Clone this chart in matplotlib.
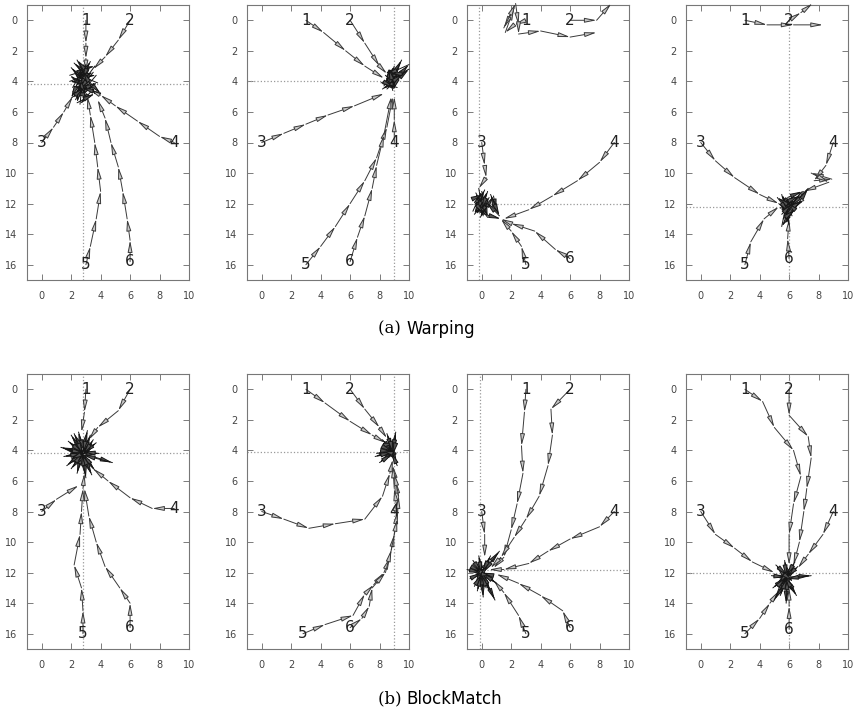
import matplotlib
matplotlib.use("Agg")
import matplotlib.pyplot as plt

# start positions of the six trajectories
start_labels = ["1", "2", "3", "4", "5", "6"]
x_ticks = [0, 2, 4, 6, 8, 10]
y_ticks = [0, 2, 4, 6, 8, 10, 12, 14, 16]

# (a) Warping
warp1_target = (2.8, 4.2)
warp1_paths = [
    [(3, 0), (3.0, 1.5), (3.0, 2.5), (3.0, 3.4)],
    [(6, 0), (5.2, 1.3), (4.3, 2.4), (3.5, 3.2)],
    [(0, 8), (0.8, 7.0), (1.5, 6.0), (2.1, 5.0)],
    [(9, 8), (8.0, 7.6), (6.5, 6.6), (5.0, 5.6), (4.0, 4.9), (3.2, 4.5)],
    [(3, 16), (3.3, 14.8), (3.7, 13.0), (4.0, 11.2), (3.8, 9.6), (3.6, 8.0), (3.3, 6.2), (3.1, 5.0)],
    [(6, 15.8), (6.0, 14.4), (5.8, 13.0), (5.5, 11.2), (5.2, 9.6), (4.7, 8.0), (4.3, 6.4), (3.8, 5.2)],
]
warp1_cluster = [(3.0, 3.5), (2.2, 2.8), (3.3, 3.9), (2.4, 3.3), (3.6, 3.0), (2.7, 4.2), (1.9, 3.6),
                 (3.2, 3.2), (2.6, 4.8), (3.5, 4.3), (2.1, 4.4), (3.0, 2.9), (2.5, 3.7), (3.7, 3.6),
                 (2.3, 5.2), (2.9, 4.0), (2.0, 3.1), (3.4, 4.6), (2.6, 5.5), (2.8, 3.6), (4.0, 4.8),
                 (2.7, 4.4), (2.2, 5.0), (3.1, 3.4), (2.4, 2.6), (3.2, 4.1), (1.9, 4.0), (3.5, 3.4),
                 (2.5, 4.6), (3.8, 4.1), (2.3, 3.5), (3.0, 4.9), (2.1, 4.7), (3.3, 2.7), (2.7, 3.9),
                 (2.4, 5.4), (3.6, 4.8), (2.8, 3.3), (2.0, 5.1), (2.9, 4.4)]

warp2_target = (9.0, 4.0)
warp2_paths = [
    [(3, 0), (4.2, 0.8), (5.7, 2.0), (7.0, 3.0), (8.3, 3.8)],
    [(6, 0), (7.0, 1.5), (8.0, 3.0), (8.5, 3.5)],
    [(0, 8), (1.5, 7.4), (3.0, 6.8), (4.5, 6.2), (6.3, 5.6), (8.3, 4.8)],
    [(9, 8), (9.0, 6.5), (9.0, 5.0)],
    [(3, 16), (4.0, 14.8), (5.0, 13.5), (6.0, 12.0), (7.0, 10.5), (7.8, 9.0), (8.5, 7.0), (8.9, 5.0)],
    [(6, 15.8), (6.5, 14.2), (7.0, 12.8), (7.5, 11.0), (7.8, 9.5), (8.3, 7.5), (8.8, 5.0)],
]
warp2_cluster = [(8.6, 3.9), (9.4, 3.4), (8.3, 4.3), (9.0, 3.0), (8.5, 4.5), (10.0, 3.2), (8.8, 3.8),
                 (9.5, 2.6), (8.7, 4.2), (10.0, 2.9), (8.4, 3.6), (9.2, 4.4), (8.1, 4.1), (9.3, 3.6),
                 (8.9, 4.6), (8.6, 3.3), (9.1, 4.0), (8.2, 4.5), (9.6, 3.5), (8.7, 3.5), (8.4, 4.1),
                 (9.0, 4.4), (8.6, 3.1)]

warp3_target = (-0.2, 12.0)
warp3_paths = [
    [(3, 0), (2.2, 0.3), (1.6, 0.8), (2.2, -0.8), (1.5, 0.5), (2.3, -1.1), (2.5, 0.3), (2.5, 0.9),
     (4.0, 0.7), (6.0, 1.1), (7.8, 0.8)],
    [(6, 0), (7.8, 0.0), (8.8, -1.1)],
    [(0, 8), (0.2, 9.5), (0.3, 10.3), (-0.2, 11.0)],
    [(9, 8), (8.0, 9.3), (6.5, 10.5), (4.8, 11.5), (3.2, 12.4), (1.5, 13.0)],
    [(3, 16), (2.7, 14.8), (2.0, 13.8), (1.3, 13.0)],
    [(6, 15.6), (5.0, 15.0), (3.6, 13.8), (2.0, 13.3), (1.3, 13.0)],
]
warp3_cluster = [(-0.2, 11.0), (0.1, 12.8), (-0.4, 11.3), (0.3, 12.5), (-0.6, 12.5), (0.0, 11.2),
                 (0.4, 12.9), (-0.3, 12.0), (0.2, 11.1), (-0.5, 12.7), (0.5, 11.6), (-0.1, 12.9),
                 (0.8, 11.5), (1.0, 12.5), (0.6, 11.4), (1.2, 12.8), (0.3, 11.9), (-0.4, 11.6),
                 (0.1, 11.4), (-0.3, 12.6), (0.4, 11.2), (0.0, 12.4), (-0.5, 11.9), (0.2, 12.7), (1.3, 13.0)]

warp4_target = (6.0, 12.2)
warp4_paths = [
    [(3, 0), (4.5, 0.3), (6.3, 0.3), (8.3, 0.3)],
    [(6, 0), (6.8, -0.5), (7.6, -1.1)],
    [(0, 8), (1.0, 9.2), (2.3, 10.3), (4.0, 11.4), (5.3, 12.0)],
    [(9, 8), (8.5, 9.5), (7.7, 10.5), (8.9, 10.4), (7.5, 10.0), (8.7, 10.6), (7.0, 11.2), (6.3, 12.0)],
    [(3, 16), (3.4, 14.5), (4.3, 13.0), (5.3, 12.2)],
    [(6, 15.6), (5.9, 14.3), (6.0, 13.0)],
]
warp4_cluster = [(5.3, 12.0), (6.2, 12.8), (5.5, 11.4), (6.0, 13.4), (5.6, 11.7), (6.5, 12.0), (5.5, 13.5),
                 (5.9, 11.6), (6.9, 11.2), (5.7, 12.5), (7.0, 11.8), (5.4, 12.3), (6.3, 11.5), (5.8, 13.2),
                 (7.3, 11.0), (6.1, 12.2), (5.2, 11.6), (6.0, 12.6), (5.6, 13.0), (6.4, 12.4), (5.8, 11.9),
                 (6.7, 11.5), (5.5, 12.7), (6.2, 12.0)]

# (b) BlockMatch
block1_target = (2.8, 4.2)
block1_paths = [
    [(3, 0), (2.9, 1.5), (2.7, 2.8)],
    [(6, 0), (5.2, 1.4), (3.8, 2.5), (3.2, 3.3)],
    [(0, 8), (1.0, 7.2), (2.5, 6.3)],
    [(9, 7.8), (7.5, 7.8), (6.0, 7.1), (4.5, 6.0), (3.5, 5.2)],
    [(2.8, 16), (2.8, 14.5), (2.7, 13.0), (2.2, 11.5), (2.6, 9.5), (2.7, 8.0), (2.8, 6.5), (2.9, 5.5)],
    [(6, 15.6), (6.0, 14.0), (5.3, 13.0), (4.3, 11.6), (3.7, 10.0), (3.2, 8.3), (2.9, 6.5)],
]
block1_cluster = [(2.8, 4.2), (1.3, 3.8), (2.8, 4.2), (2.0, 3.0), (2.8, 4.3), (2.5, 2.8), (2.9, 4.1),
                  (3.3, 3.0), (2.8, 4.2), (3.7, 3.5), (2.8, 4.2), (4.8, 4.8), (2.8, 4.3), (3.6, 5.3),
                  (2.8, 4.2), (3.0, 5.8), (2.7, 4.2), (2.4, 5.5), (2.8, 4.1), (1.7, 5.0), (2.8, 4.2),
                  (1.5, 4.4), (2.8, 4.2), (1.8, 3.4), (2.8, 4.2), (3.9, 4.2), (2.8, 4.1), (2.2, 2.9),
                  (2.8, 4.3), (3.4, 5.6), (2.7, 4.2), (1.6, 3.9), (2.9, 4.2), (3.5, 3.3), (2.8, 4.3),
                  (2.0, 5.2), (2.8, 4.1), (3.1, 2.7), (2.8, 4.2), (1.9, 4.6)]

block2_target = (9.0, 4.1)
block2_paths = [
    [(3, 0), (4.3, 0.9), (6.0, 2.1), (7.5, 3.0), (8.4, 3.5)],
    [(6, 0), (7.0, 1.3), (8.0, 2.5), (8.5, 3.2)],
    [(0, 8), (1.5, 8.5), (3.2, 9.1), (5.0, 8.8), (7.0, 8.5), (8.2, 7.0), (8.7, 5.5), (8.9, 4.6)],
    [(9, 8), (9.3, 7.2), (9.1, 6.0), (8.9, 5.0)],
    [(2.8, 16), (4.3, 15.4), (6.2, 14.8), (7.0, 13.4), (7.6, 12.8), (8.3, 12.0), (8.7, 11.0),
     (9.0, 9.5), (9.2, 8.0), (9.0, 6.5), (8.9, 5.0)],
    [(6, 15.6), (6.8, 15.0), (7.3, 14.2), (7.5, 13.0), (8.4, 12.0), (8.8, 10.5), (9.2, 8.5),
     (9.3, 7.0), (9.0, 5.5)],
]
block2_cluster = [(8.9, 4.1), (7.8, 4.2), (8.9, 4.0), (8.2, 3.3), (8.9, 4.1), (8.5, 2.9), (8.9, 4.0),
                  (9.1, 2.8), (8.9, 4.1), (8.0, 4.8), (8.9, 4.2), (9.2, 5.0), (8.8, 4.1), (7.7, 4.4),
                  (8.9, 4.1), (8.6, 3.6), (9.1, 3.5), (8.9, 4.3), (8.3, 3.8), (8.9, 4.1), (8.7, 3.2),
                  (8.9, 4.2), (8.1, 4.0), (8.9, 4.1)]

block3_target = (-0.1, 11.8)
block3_paths = [
    [(3, 0), (2.9, 1.5), (2.7, 3.7), (2.8, 5.5), (2.4, 7.5), (2.0, 9.2), (1.5, 11.0), (0.8, 11.7)],
    [(6, 0), (4.7, 1.3), (4.8, 3.0), (4.5, 5.0), (3.9, 7.0), (3.0, 8.5), (2.2, 9.7), (1.3, 11.0), (0.6, 11.7)],
    [(0, 8), (0.2, 9.5), (0.2, 11.0)],
    [(9, 8), (8.0, 9.0), (6.0, 9.8), (4.5, 10.6), (3.2, 11.4), (1.5, 11.8), (0.5, 11.8)],
    [(3, 16), (2.5, 14.8), (1.5, 13.3), (0.8, 12.5)],
    [(6, 15.6), (5.5, 14.5), (4.0, 13.5), (2.5, 12.7), (1.0, 12.1)],
]
block3_cluster = [(0, 12), (-1.0, 11.8), (0, 12), (-0.6, 11.2), (0, 12), (-0.2, 10.9), (0, 12.1),
                  (0.6, 10.9), (0, 12), (1.2, 10.6), (0.1, 12), (-0.8, 12.4), (0, 12), (-0.3, 13.2),
                  (0, 12.1), (0.1, 13.6), (0, 12), (0.6, 13.3), (0, 12), (0.9, 13.8), (0, 12),
                  (1.0, 12.7), (0, 12), (-0.5, 12.9), (0, 12.1), (0.4, 11.3), (0, 12), (-0.7, 11.6),
                  (0, 12), (0.3, 13.0), (0, 12.1), (0.8, 12.2), (0, 12)]

block4_target = (6.0, 12.0)
block4_paths = [
    [(3, 0), (4.2, 0.8), (5.0, 2.5), (6.3, 4.0), (6.8, 5.7), (6.3, 7.5), (6.0, 9.5), (6.0, 11.5)],
    [(6, 0), (6.0, 1.7), (7.3, 3.1), (7.5, 4.5), (7.2, 6.5), (7.0, 8.0), (6.7, 10.0), (6.3, 11.5)],
    [(0, 8), (1.0, 9.5), (2.3, 10.4), (3.5, 11.3), (5.0, 12.0)],
    [(9, 8), (8.3, 9.5), (7.3, 10.8), (6.6, 11.7)],
    [(3, 16), (4.0, 15.0), (4.7, 14.0), (5.3, 13.2)],
    [(6, 15.7), (6.0, 14.2), (6.0, 13.0)],
]
block4_cluster = [(5.8, 12.3), (4.8, 12.2), (5.8, 12.3), (5.1, 11.5), (5.9, 12.2), (5.7, 11.2), (5.8, 12.3),
                  (6.6, 11.6), (5.8, 12.3), (7.5, 12.2), (5.8, 12.4), (6.5, 13.5), (5.8, 12.3), (5.8, 14.0),
                  (5.9, 12.3), (5.0, 13.8), (5.8, 12.3), (4.9, 13.0), (5.8, 12.3), (6.2, 13.1), (5.7, 12.2),
                  (5.3, 12.8), (5.8, 12.3), (6.4, 11.3), (5.8, 12.2), (5.4, 13.5), (5.9, 12.3), (6.3, 12.6)]

panels = [
    (warp1_paths, warp1_cluster, warp1_target),
    (warp2_paths, warp2_cluster, warp2_target),
    (warp3_paths, warp3_cluster, warp3_target),
    (warp4_paths, warp4_cluster, warp4_target),
    (block1_paths, block1_cluster, block1_target),
    (block2_paths, block2_cluster, block2_target),
    (block3_paths, block3_cluster, block3_target),
    (block4_paths, block4_cluster, block4_target),
]

W, H = 856, 714
lefts = [27, 247, 467, 686]
tops = [5, 374]
ax_w, ax_h = 162, 275

fig = plt.figure(figsize=(W / 100, H / 100), dpi=100)


def draw_arrows(ax, pts, ec="#3a3a3a", fc="#c8c8c8"):
    for (x0, y0), (x1, y1) in zip(pts[:-1], pts[1:]):
        ax.annotate("", xy=(x1, y1), xytext=(x0, y0),
                    arrowprops=dict(arrowstyle="-|>,head_length=0.7,head_width=0.14",
                                    ec=ec, fc=fc, lw=0.7,
                                    shrinkA=0, shrinkB=0),
                    annotation_clip=False)


for i, (paths, cluster, target) in enumerate(panels):
    row, col = divmod(i, 4)
    ax = fig.add_axes([lefts[col] / W, 1 - (tops[row] + ax_h) / H, ax_w / W, ax_h / H])
    ax.set_xlim(-1, 10)
    ax.set_ylim(17, -1)
    ax.axvline(target[0], color="#999999", ls=":", lw=0.9)
    ax.axhline(target[1], color="#999999", ls=":", lw=0.9)
    for p in paths:
        draw_arrows(ax, p)
    draw_arrows(ax, cluster, ec="#151515", fc="#555555")
    for lab, p in zip(start_labels, paths):
        ax.text(p[0][0], p[0][1], lab, ha="center", va="center", fontsize=11, color="#222222")
    ax.set_xticks(x_ticks)
    ax.set_yticks(y_ticks)
    ax.tick_params(direction="in", length=4, width=0.6, color="#666666",
                   top=True, right=True, labelsize=7, labelcolor="#444444")
    ax.tick_params(axis="x", pad=8)
    ax.tick_params(axis="y", pad=7)
    for s in ax.spines.values():
        s.set_color("#777777")
        s.set_linewidth(0.8)

# captions: serif "(a)" then sans title, as in the LaTeX subfigure
for y_px, tag, title in [(329, "(a)", "Warping"), (699, "(b)", "BlockMatch")]:
    fig.text(0.5 - 0.025, 1 - y_px / H, tag + " ", ha="right", va="center",
             fontsize=12, family="DejaVu Serif")
    fig.text(0.5 - 0.025, 1 - y_px / H, title, ha="left", va="center",
             fontsize=12, family="DejaVu Sans")

fig.savefig("out.png", dpi=100)
